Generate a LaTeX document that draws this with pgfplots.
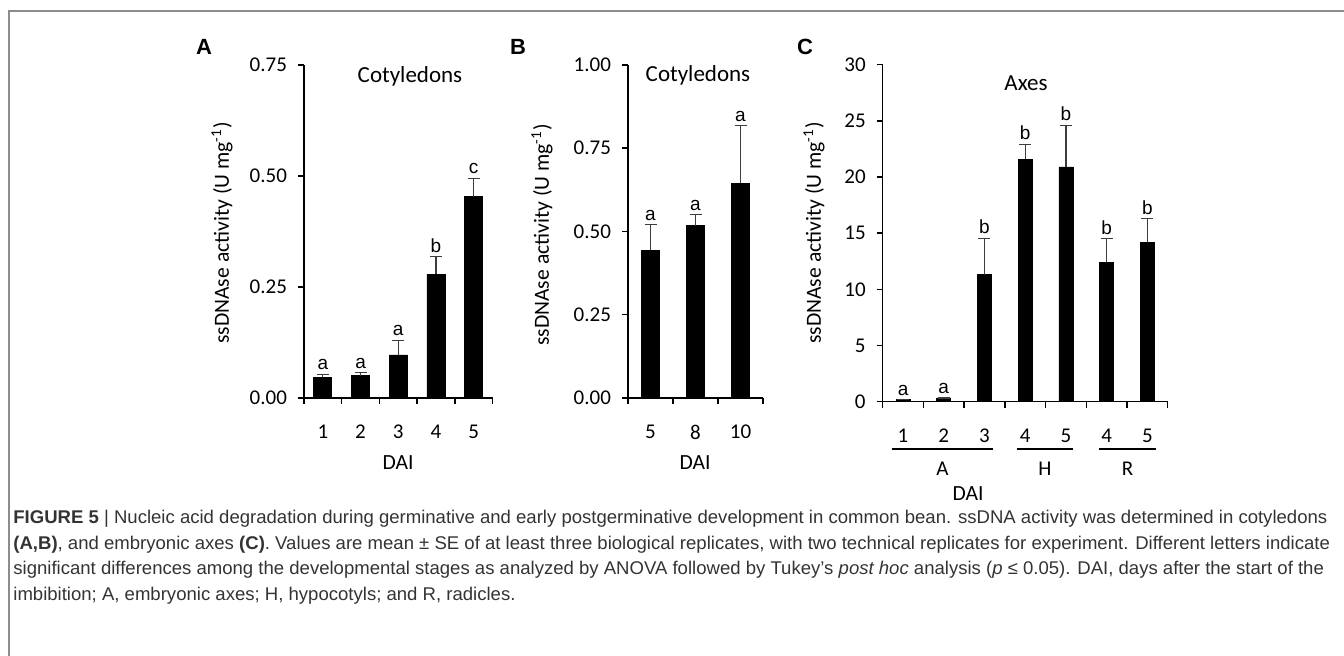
\documentclass[border=0pt]{standalone}
\usepackage{pgfplots}
\pgfplotsset{compat=1.18}
\usepackage{fontspec}
\usepackage{graphicx}
\setmainfont{Carlito}
\newfontfamily\arialf{Liberation Sans}
\definecolor{errgray}{HTML}{3C3C3C}
\definecolor{capgray}{HTML}{333333}
\definecolor{framegray}{HTML}{8C8C8C}

\newcommand{\lineone}{{\bfseries FIGURE 5} | Nucleic acid degradation during germinative and early postgerminative development in common bean. ssDNA activity was determined in cotyledons}
\newlength\Lone
\newsavebox\capbox

\pgfplotsset{
  panel/.style={
    scale only axis, clip=false, enlargelimits=false,
    axis x line*=bottom, axis y line*=left,
    axis line style={line width=0.75pt, -},
    xtick align=outside, ytick align=outside,
    major tick length=3pt, minor tick length=3pt,
    tick style={line width=0.75pt, black},
    major x tick style={draw=none},
    /pgf/number format/assume math mode=true,
    tick label style={font=\fontsize{10.5}{12}\selectfont},
    yticklabel style={xshift=-2pt},
    xticklabel style={yshift=-7pt},
    ybar, bar width=9pt,
  },
  bars/.style={fill=black, draw=black,
    error bars/.cd, y dir=plus, y explicit,
    error bar style={line width=0.6pt, errgray},
    error mark options={rotate=90, mark size=3pt, line width=0.6pt, errgray}},
}
\newcommand{\sig}[3]{\node[anchor=south, inner sep=2pt, font=\arialf\fontsize{9.5}{10}\selectfont] at (axis cs:#1,#2) {#3};}

\begin{document}%
\sbox\capbox{\arialf\fontsize{9.2}{11}\selectfont\lineone}%
\setlength\Lone{\wd\capbox}%
\pgfmathsetmacro\capf{657/\Lone}%
\begin{tikzpicture}[x=0.5pt,y=-0.5pt]
\path[use as bounding box] (0,0) rectangle (1344,656);
\draw[framegray, line width=0.8pt] (9,656) -- (9,11) -- (1344,11);

% ---------- Panel A ----------
\begin{axis}[panel, at={(152pt,-199pt)}, anchor=south west,
  width=94.25pt, height=166.5pt,
  xmin=0, xmax=5, ymin=0, ymax=0.75,
  ytick={0,0.25,0.5,0.75}, yticklabels={0.00,0.25,0.50,0.75},
  xtick={0.5,1.5,2.5,3.5,4.5}, xticklabels={1,2,3,4,5},
  minor xtick={0,1,2,3,4,5}]
\addplot[bars] coordinates {
  (0.5,0.047) +- (0,0.006)
  (1.5,0.050) +- (0,0.007)
  (2.5,0.097) +- (0,0.033)
  (3.5,0.279) +- (0,0.039)
  (4.5,0.453) +- (0,0.042)};
\sig{0.5}{0.053}{a}
\sig{1.5}{0.057}{a}
\sig{2.5}{0.130}{a}
\sig{3.5}{0.318}{b}
\sig{4.5}{0.495}{c}
\end{axis}

% ---------- Panel B ----------
\begin{axis}[panel, at={(314pt,-199pt)}, anchor=south west,
  width=67.5pt, height=166.5pt,
  xmin=0, xmax=3, ymin=0, ymax=1,
  ytick={0,0.25,0.5,0.75,1}, yticklabels={0.00,0.25,0.50,0.75,1.00},
  xtick={0.5,1.5,2.5}, xticklabels={5,8,10},
  minor xtick={0,1,2,3}]
\addplot[bars] coordinates {
  (0.5,0.444) +- (0,0.076)
  (1.5,0.517) +- (0,0.033)
  (2.5,0.645) +- (0,0.173)};
\sig{0.5}{0.520}{a}
\sig{1.5}{0.550}{a}
\sig{2.5}{0.818}{a}
\end{axis}

% ---------- Panel C ----------
\begin{axis}[panel, at={(441.35pt,-200.85pt)}, anchor=south west,
  width=142.5pt, height=168.5pt, bar width=7pt,
  xmin=0, xmax=7, ymin=0, ymax=30,
  ytick={0,5,10,15,20,25,30}, yticklabels={0,5,10,15,20,25,30},
  xtick={0.5,1.5,2.5,3.5,4.5,5.5,6.5}, xticklabels={1,2,3,4,5,4,5},
  minor xtick={0,1,2,3,4,5,6,7}]
\addplot[bars] coordinates {
  (0.5,0.18) +- (0,0)
  (1.5,0.33) +- (0,0)
  (2.5,11.3) +- (0,3.25)
  (3.5,21.6) +- (0,1.3)
  (4.5,20.9) +- (0,3.7)
  (5.5,12.4) +- (0,2.1)
  (6.5,14.2) +- (0,2.1)};
\sig{0.5}{0.18}{a}
\sig{1.5}{0.33}{a}
\sig{2.5}{14.55}{b}
\sig{3.5}{22.9}{b}
\sig{4.5}{24.6}{b}
\sig{5.5}{14.5}{b}
\sig{6.5}{16.3}{b}
\draw[line width=0.75pt] ([yshift=-23.6pt]axis cs:0.22,0) -- ([yshift=-23.6pt]axis cs:2.71,0);
\draw[line width=0.75pt] ([yshift=-23.6pt]axis cs:3.29,0) -- ([yshift=-23.6pt]axis cs:4.68,0);
\draw[line width=0.75pt] ([yshift=-23.6pt]axis cs:5.31,0) -- ([yshift=-23.6pt]axis cs:6.72,0);
\node[font=\fontsize{10.5}{12}\selectfont] at ([yshift=-33.4pt]axis cs:1.465,0) {A};
\node[font=\fontsize{10.5}{12}\selectfont] at ([yshift=-33.4pt]axis cs:3.985,0) {H};
\node[font=\fontsize{10.5}{12}\selectfont] at ([yshift=-33.4pt]axis cs:6.015,0) {R};
\end{axis}

% ---------- texts ----------
\begin{scope}[every node/.style={font=\arialf\bfseries\fontsize{11}{12}\selectfont}]
\node at (204,47) {A};
\node at (518,47) {B};
\node at (805,47) {C};
\end{scope}
\begin{scope}[every node/.style={font=\fontsize{11.5}{13}\selectfont}]
\node at (410,76) {Cotyledons};
\node at (698,75) {Cotyledons};
\node at (1026,83) {Axes};
\end{scope}
\begin{scope}[every node/.style={font=\fontsize{10.8}{12}\selectfont}]
\node[rotate=90] at (222,233) {ssDNAse activity (U mg\textsuperscript{-1})};
\node[rotate=90] at (542,235) {ssDNAse activity (U mg\textsuperscript{-1})};
\node[rotate=90] at (814,233) {ssDNAse activity (U mg\textsuperscript{-1})};
\node at (398,463) {DAI};
\node at (695,463) {DAI};
\node at (968,494) {DAI};
\end{scope}

% ---------- caption ----------
\begin{scope}[every node/.style={anchor=west, inner sep=0pt, text=capgray, font=\arialf\fontsize{9.2}{11}\selectfont}]
\node at (13,519) {\scalebox{\capf}[1]{\lineone}};
\node at (13,545) {\scalebox{\capf}[1]{{\bfseries (A,B)}, and embryonic axes {\bfseries (C)}. Values are mean ± SE of at least three biological replicates, with two technical replicates for experiment. Different letters indicate}};
\node at (13,570) {\scalebox{\capf}[1]{significant differences among the developmental stages as analyzed by ANOVA followed by Tukey’s \textit{post hoc} analysis (\textit{p} ≤ 0.05). DAI, days after the start of the}};
\node at (13,596) {\scalebox{\capf}[1]{imbibition; A, embryonic axes; H, hypocotyls; and R, radicles.}};
\end{scope}
\end{tikzpicture}
\end{document}
